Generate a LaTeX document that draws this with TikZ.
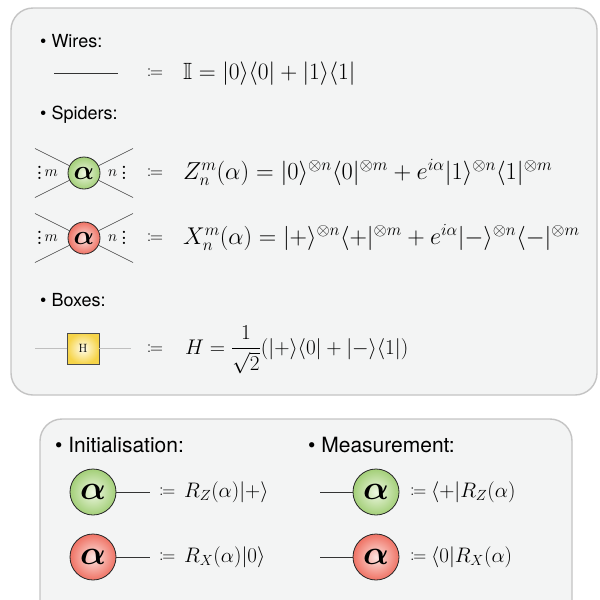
\RequirePackage{fix-cm}
\documentclass[tikz,border=0pt]{standalone}
\usepackage{amsmath,amssymb,mathtools}
\usepackage[no-math]{fontspec}
\newfontfamily\hv{TeX Gyre Heros}
\newcommand{\tallvdots}{\mathord{\vcenter{\baselineskip=5.6pt\lineskiplimit=0pt\hbox{\bfseries .}\hbox{\bfseries .}\hbox{\bfseries .}}}}
\definecolor{panelfill}{HTML}{F3F4F4}
\definecolor{panelline}{HTML}{C4C4C4}
\definecolor{greenin}{HTML}{EEF7E2}
\definecolor{greenout}{HTML}{A3CF78}
\definecolor{redin}{HTML}{FCE4E0}
\definecolor{redout}{HTML}{EF7264}
\definecolor{yellowin}{HTML}{FFFDF0}
\definecolor{yellowout}{HTML}{F6D448}
\tikzset{
  panel/.style={draw=panelline, line width=1.4pt, fill=panelfill, rounded corners=22pt},
  head/.style={font=\hv\fontsize{18}{20}\selectfont, anchor=base west, inner sep=0pt},
  bighead/.style={font=\hv\fontsize{21}{24}\selectfont, anchor=base west, inner sep=0pt},
  formula/.style={font=\fontsize{#1}{27}\selectfont, anchor=base west, inner sep=0pt},
  bformula/.style={font=\fontsize{21}{25}\selectfont, anchor=base west, inner sep=0pt},
  defsym/.style={font=\fontsize{18}{20}\selectfont, anchor=base, inner sep=0pt},
  legs/.style={font=\fontsize{15.5}{18}\selectfont, inner sep=0pt},
  spider/.style={circle, draw=black!85, line width=0.8pt, inner sep=0pt, minimum size=#1},
  zsp/.style={spider=#1, shading=radial, inner color=greenin, outer color=greenout},
  xsp/.style={spider=#1, shading=radial, inner color=redin, outer color=redout},
  smallalpha/.style={font=\fontsize{27}{30}\selectfont},
  bigalpha/.style={font=\fontsize{34}{36}\selectfont},
  hbox/.style={draw=black!70, line width=0.8pt, minimum width=32pt, minimum height=31pt,
     inner sep=0pt, shading=radial, inner color=yellowin, outer color=yellowout,
     font=\fontsize{12}{14}\selectfont},
  leg/.style={draw=black!75, line width=0.6pt},
  wire/.style={draw=black!80, line width=0.8pt},
  graywire/.style={draw=black!25, line width=1.5pt},
}
\begin{document}
\begin{tikzpicture}[x=1pt,y=-1pt]
\useasboundingbox (0,0) rectangle (600,600);
\begin{scope}
\clip (0,0) rectangle (600,600);
% panels
\path[panel] (11,8) rectangle (597,395);
\path[panel] (40,419) rectangle (572,660);

% ---------- top panel ----------
\node[head] (hw) at (40,47) {\textbullet\ Wires:};
\coordinate (wa) at (54,73);
\coordinate (wb) at (118,73);
\draw[wire] (wa) -- (wb);
\node[defsym] (d1) at (155,77.5) {$\coloneqq$};
\node[formula=23.5] (f1) at (183,79) {$\mathbb{I} = |0\rangle\langle 0| + |1\rangle\langle 1|$};

\node[head] (hs) at (40,119) {\textbullet\ Spiders:};

% green spider
\node[zsp=32pt, smallalpha] (z) at (84,173) {$\boldsymbol{\alpha}$};
\coordinate (z1) at (35,148.5);
\coordinate (z2) at (133,197.5);
\coordinate (z3) at (35,197.5);
\coordinate (z4) at (133,148.5);
\draw[leg] (z1) -- (z);
\draw[leg] (z2) -- (z);
\draw[leg] (z3) -- (z);
\draw[leg] (z4) -- (z);
\node[legs, anchor=east] (zm) at (58,173) {$\tallvdots\, m$};
\node[legs, anchor=west] (zn) at (108,173) {$n\;\tallvdots$};
\node[defsym] (d2) at (155,177.5) {$\coloneqq$};
\node[formula=24.5] (f2) at (183,179.5) {$Z_n^m(\alpha) = |0\rangle^{\otimes n}\langle 0|^{\otimes m} + e^{i\alpha}|1\rangle^{\otimes n}\langle 1|^{\otimes m}$};

% red spider
\node[xsp=32pt, smallalpha] (x) at (84,238) {$\boldsymbol{\alpha}$};
\coordinate (x1) at (35,213.5);
\coordinate (x2) at (133,262.5);
\coordinate (x3) at (35,262.5);
\coordinate (x4) at (133,213.5);
\draw[leg] (x1) -- (x);
\draw[leg] (x2) -- (x);
\draw[leg] (x3) -- (x);
\draw[leg] (x4) -- (x);
\node[legs, anchor=east] (xm) at (58,238) {$\tallvdots\, m$};
\node[legs, anchor=west] (xn) at (108,238) {$n\;\tallvdots$};
\node[defsym] (d3) at (155,242.5) {$\coloneqq$};
\node[formula=24.2] (f3) at (183,244.5) {$X_n^m(\alpha) = |{+}\rangle^{\otimes n}\langle {+}|^{\otimes m} + e^{i\alpha}|{-}\rangle^{\otimes n}\langle {-}|^{\otimes m}$};

\node[head] (hb) at (40,306) {\textbullet\ Boxes:};
\node[hbox] (h) at (83,348.5) {H};
\coordinate (ha) at (35,348.5);
\coordinate (hb2) at (131,348.5);
\draw[graywire] (ha) -- (h);
\draw[graywire] (h) -- (hb2);
\node[defsym] (d4) at (155,353) {$\coloneqq$};
\node[formula=21.2] (f4) at (185,354) {$H = \dfrac{1}{\sqrt{2}}(|{+}\rangle\langle 0| + |{-}\rangle\langle 1|)$};

% ---------- bottom panel ----------
\node[bighead] (hi) at (55,452) {\textbullet\ Initialisation:};
\node[bighead] (hm) at (308,452) {\textbullet\ Measurement:};

\node[zsp=46pt, bigalpha] (iz) at (93,492) {$\boldsymbol{\alpha}$};
\coordinate (izt) at (150,492);
\draw[wire] (iz) -- (izt);
\node[defsym, anchor=base west] (d5) at (159,496.5) {$\coloneqq$};
\node[bformula] (f5) at (184,497.5) {$R_Z(\alpha)|{+}\rangle$};

\node[xsp=46pt, bigalpha] (ix) at (93,557) {$\boldsymbol{\alpha}$};
\coordinate (ixt) at (150,557);
\draw[wire] (ix) -- (ixt);
\node[defsym, anchor=base west] (d6) at (159,561.5) {$\coloneqq$};
\node[bformula] (f6) at (184,562.5) {$R_X(\alpha)|0\rangle$};

\node[zsp=46pt, bigalpha] (mz) at (376,492) {$\boldsymbol{\alpha}$};
\coordinate (mzt) at (320,492);
\draw[wire] (mzt) -- (mz);
\node[defsym, anchor=base west] (d7) at (410,496.5) {$\coloneqq$};
\node[bformula] (f7) at (431,497.5) {$\langle{+}|R_Z(\alpha)$};

\node[xsp=46pt, bigalpha] (mx) at (376,557) {$\boldsymbol{\alpha}$};
\coordinate (mxt) at (320,557);
\draw[wire] (mxt) -- (mx);
\node[defsym, anchor=base west] (d8) at (410,561.5) {$\coloneqq$};
\node[bformula] (f8) at (431,562.5) {$\langle 0|R_X(\alpha)$};
\end{scope}
\end{tikzpicture}
\end{document}
